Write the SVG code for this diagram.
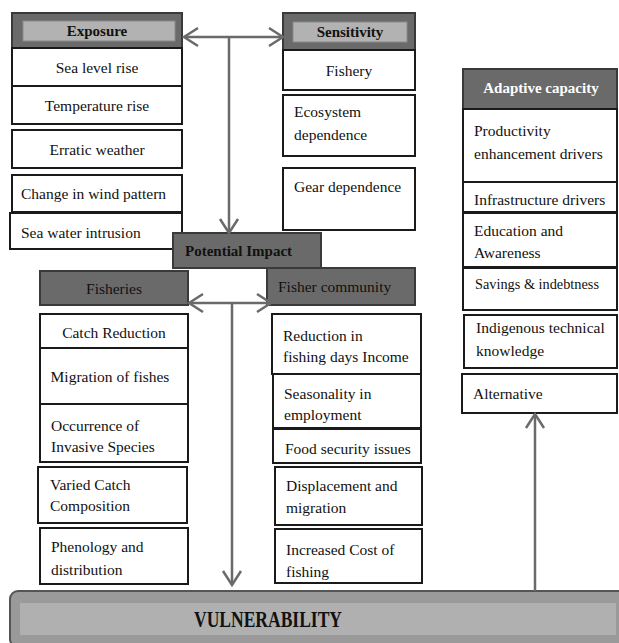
<svg xmlns="http://www.w3.org/2000/svg" width="619" height="643" viewBox="0 0 619 643">
<defs>
<style>
.box{fill:#fff;stroke:#1a1a1a;stroke-width:2}
.hdr{fill:#6a6a6a;stroke:#3a3a3a;stroke-width:2}
.hin{fill:#b2b2b2;stroke:#8a8a8a;stroke-width:1}
.t{font-family:"Liberation Serif","Times New Roman",serif;font-size:15.5px;fill:#111}
.c{text-anchor:middle}
.b{font-weight:bold;font-size:15px}
.w{fill:#fff}
.ln{fill:none;stroke:#6a6a6a;stroke-width:2.5}
</style>
<marker id="ah" markerUnits="userSpaceOnUse" markerWidth="20" markerHeight="24" viewBox="0 0 20 24" refX="17" refY="12" orient="auto-start-reverse">
<path d="M3,3 L17,12 L3,21" fill="none" stroke="#6a6a6a" stroke-width="2.5"/>
</marker>
</defs>
<rect width="619" height="643" fill="#fff"/>

<g id="exposure">
<rect class="hdr" x="12" y="13" width="170" height="35"/>
<rect class="hin" x="23" y="21" width="152" height="20"/>
<text class="t b c" x="97" y="36">Exposure</text>
</g>
<g id="sea-level"><rect class="box" x="12" y="48" width="170" height="38"/><text class="t c" x="97" y="73">Sea level rise</text></g>
<g id="temperature"><rect class="box" x="12" y="86" width="170" height="38"/><text class="t c" x="97" y="111">Temperature rise</text></g>
<g id="erratic"><rect class="box" x="12" y="130" width="170" height="38"/><text class="t c" x="97" y="155">Erratic weather</text></g>
<g id="wind"><rect class="box" x="12" y="175" width="170" height="37"/><text class="t" x="21" y="199">Change in wind pattern</text></g>
<g id="seawater"><rect class="box" x="10" y="213" width="172" height="36"/><text class="t" x="21" y="238">Sea water intrusion</text></g>

<g id="sensitivity">
<rect class="hdr" x="283" y="13" width="132" height="37"/>
<rect class="hin" x="293" y="22" width="114" height="20"/>
<text class="t b c" x="350" y="37">Sensitivity</text>
</g>
<g id="fishery"><rect class="box" x="283" y="50" width="132" height="40"/><text class="t c" x="349" y="76">Fishery</text></g>
<g id="ecosystem"><rect class="box" x="283" y="95" width="132" height="61"/><text class="t" x="294" y="117">Ecosystem</text><text class="t" x="294" y="140">dependence</text></g>
<g id="gear"><rect class="box" x="283" y="168" width="132" height="62"/><text class="t" x="294" y="192">Gear dependence</text></g>

<g id="adaptive">
<rect class="hdr" x="463" y="69" width="154" height="40"/>
<text class="t b c w" x="541" y="93">Adaptive capacity</text>
</g>
<g id="productivity"><rect class="box" x="463" y="109" width="154" height="73"/><text class="t" x="474" y="136">Productivity</text><text class="t" x="474" y="159">enhancement drivers</text></g>
<g id="infrastructure"><rect class="box" x="463" y="182" width="154" height="30"/><text class="t" x="474" y="205">Infrastructure drivers</text></g>
<g id="education"><rect class="box" x="463" y="213" width="154" height="54"/><text class="t" x="474" y="236">Education and</text><text class="t" x="474" y="258">Awareness</text></g>
<g id="savings"><rect class="box" x="463" y="268" width="154" height="42"/><text class="t" x="475" y="289" textLength="124" lengthAdjust="spacingAndGlyphs">Savings &amp; indebtness</text></g>
<g id="indigenous"><rect class="box" x="464" y="315" width="153" height="53"/><text class="t" x="476" y="333">Indigenous technical</text><text class="t" x="476" y="356">knowledge</text></g>
<g id="alternative"><rect class="box" x="462" y="374" width="155" height="39"/><text class="t" x="473" y="399">Alternative</text></g>

<g id="potential-impact">
<rect class="hdr" x="173" y="233" width="148" height="35"/>
<text class="t b" x="185" y="256">Potential Impact</text>
</g>

<g id="fisheries"><rect class="hdr" x="40" y="271" width="148" height="34"/><text class="t c" x="114" y="294">Fisheries</text></g>
<g id="fisher-community"><rect class="hdr" x="267" y="268" width="148" height="37"/><text class="t" x="278" y="292">Fisher community</text></g>

<g id="catch-reduction"><rect class="box" x="40" y="314" width="148" height="34"/><text class="t c" x="114" y="338">Catch Reduction</text></g>
<g id="migration"><rect class="box" x="40" y="348" width="148" height="56"/><text class="t c" x="110" y="382">Migration of fishes</text></g>
<g id="occurrence"><rect class="box" x="40" y="404" width="148" height="58"/><text class="t" x="51" y="431">Occurrence of</text><text class="t" x="51" y="452">Invasive Species</text></g>
<g id="varied"><rect class="box" x="38" y="467" width="149" height="56"/><text class="t" x="50" y="490">Varied Catch</text><text class="t" x="50" y="511">Composition</text></g>
<g id="phenology"><rect class="box" x="40" y="528" width="148" height="56"/><text class="t" x="51" y="552">Phenology and</text><text class="t" x="51" y="575">distribution</text></g>

<g id="reduction"><rect class="box" x="272" y="314" width="149" height="60"/><text class="t" x="283" y="341">Reduction in</text><text class="t" x="283" y="362">fishing days Income</text></g>
<g id="seasonality"><rect class="box" x="273" y="374" width="148" height="54"/><text class="t" x="284" y="399">Seasonality in</text><text class="t" x="284" y="420">employment</text></g>
<g id="food"><rect class="box" x="273" y="429" width="148" height="34"/><text class="t" x="285" y="454">Food security issues</text></g>
<g id="displacement"><rect class="box" x="275" y="467" width="147" height="58"/><text class="t" x="286" y="491">Displacement and</text><text class="t" x="286" y="513">migration</text></g>
<g id="cost"><rect class="box" x="275" y="529" width="147" height="54"/><text class="t" x="286" y="555">Increased Cost of</text><text class="t" x="286" y="577">fishing</text></g>

<g id="vulnerability">
<rect x="10" y="591" width="620" height="56" rx="8" fill="#9a9a9a" stroke="#555" stroke-width="2"/>
<rect x="20" y="603" width="596" height="32" fill="#b0b0b0"/>
<text x="268" y="627" text-anchor="middle" font-family="'Liberation Serif','Times New Roman',serif" font-weight="bold" font-size="23" textLength="148" lengthAdjust="spacingAndGlyphs" fill="#111">VULNERABILITY</text>
</g>

<g id="connectors">
<line class="ln" x1="184" y1="37" x2="283" y2="37" marker-start="url(#ah)" marker-end="url(#ah)"/>
<line class="ln" x1="229" y1="37" x2="229" y2="233" marker-end="url(#ah)"/>
<line class="ln" x1="189" y1="303" x2="271" y2="303" marker-start="url(#ah)" marker-end="url(#ah)"/>
<line class="ln" x1="232" y1="303" x2="232" y2="585" marker-end="url(#ah)"/>
<line class="ln" x1="535" y1="591" x2="535" y2="414" marker-end="url(#ah)"/>
</g>
</svg>
